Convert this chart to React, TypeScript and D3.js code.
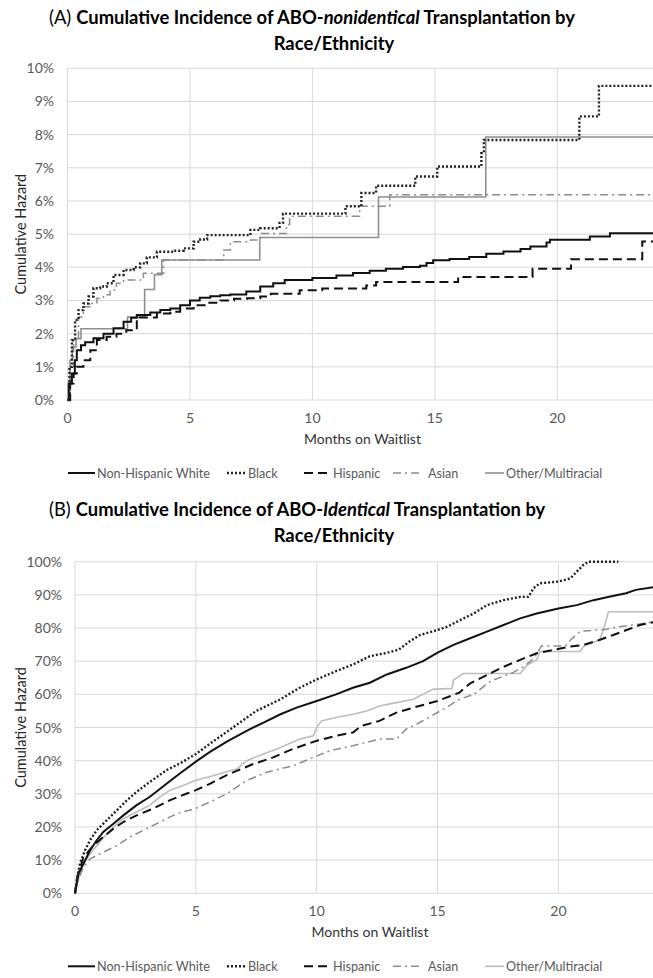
import React from 'react';
import * as d3 from 'd3';

type Pt = [number, number];

const monthTicks = [0, 5, 10, 15, 20];
const hazardTicksA = [0, 1, 2, 3, 4, 5, 6, 7, 8, 9, 10];
const hazardTicksB = [0, 10, 20, 30, 40, 50, 60, 70, 80, 90, 100];
const groups = ['Non-Hispanic White', 'Black', 'Hispanic', 'Asian', 'Other/Multiracial'];

// panel A: ABO-nonidentical, [months, cumulative hazard %]
const aWhite: Pt[] = [[0,0],[0.05,0.5],[0.18,0.8],[0.3,1.2],[0.38,1.5],[0.55,1.65],[0.72,1.74],[1.06,1.86],[1.47,2.0],[1.88,2.16],[2.29,2.36],[2.6,2.48],[2.83,2.56],[3.38,2.64],[3.79,2.71],[4.2,2.76],[4.6,2.86],[5.0,3.0],[5.4,3.08],[5.83,3.13],[6.24,3.16],[6.65,3.18],[7.3,3.27],[7.87,3.42],[8.4,3.52],[8.87,3.62],[10.0,3.68],[10.98,3.75],[11.66,3.83],[12.34,3.9],[13.0,3.96],[13.7,4.01],[14.39,4.05],[14.66,4.13],[14.93,4.21],[15.6,4.25],[16.4,4.31],[17.1,4.41],[17.8,4.48],[18.5,4.55],[18.9,4.63],[19.56,4.75],[19.7,4.83],[21.33,4.93],[22.15,5.03],[24,5.03]];
const aBlack: Pt[] = [[0,0],[0.08,1.0],[0.18,1.8],[0.31,2.41],[0.45,2.71],[0.65,2.91],[0.86,3.12],[1.06,3.37],[1.33,3.42],[1.6,3.52],[1.88,3.77],[2.29,3.92],[2.7,4.0],[2.97,4.12],[3.24,4.3],[3.65,4.47],[4.33,4.5],[4.74,4.57],[5.15,4.77],[5.42,4.84],[5.7,4.97],[7.47,5.13],[7.87,5.18],[8.66,5.34],[8.8,5.62],[11.35,5.84],[12.0,6.24],[12.6,6.46],[14.2,6.74],[15.1,7.04],[16.9,7.44],[17.0,7.84],[20.9,8.55],[21.7,9.47],[24,9.47]];
const aHispanic: Pt[] = [[0,0],[0.11,0.5],[0.25,0.8],[0.38,1.0],[0.65,1.2],[0.93,1.5],[1.2,1.81],[1.6,1.91],[2.0,2.0],[2.4,2.1],[2.83,2.49],[3.65,2.61],[4.2,2.66],[4.6,2.76],[5.15,2.86],[5.7,2.93],[6.24,3.0],[6.8,3.05],[7.33,3.07],[7.87,3.12],[8.3,3.2],[9.48,3.31],[10.4,3.36],[12.2,3.45],[12.6,3.56],[15.95,3.71],[18.99,3.96],[20.56,4.24],[23.47,4.78],[24,4.78]];
const aAsian: Pt[] = [[0,0],[0.11,1.0],[0.25,1.8],[0.45,2.5],[0.65,2.81],[0.93,2.91],[1.2,3.07],[1.47,3.17],[1.74,3.32],[2.0,3.52],[2.29,3.62],[3.1,3.82],[3.92,4.22],[6.38,4.52],[6.65,4.77],[7.47,4.82],[7.87,5.02],[8.94,5.29],[9.07,5.54],[11.93,5.84],[13.16,6.19],[24,6.19]];
const aOther: Pt[] = [[0,0],[0.1,1.2],[0.2,1.6],[0.35,1.85],[0.55,2.15],[2.45,2.5],[3.15,3.33],[3.55,3.78],[3.85,4.22],[7.85,4.9],[12.7,6.12],[17.08,7.93],[24,7.93]];

// panel B: ABO-identical
const bWhite: Pt[] = [[0,0],[0.14,5.9],[0.35,8.9],[0.62,12.9],[0.9,16],[1.17,18.5],[1.59,21],[2.0,23.5],[2.55,26.6],[3.1,29.1],[3.8,33.1],[4.35,36.2],[5,39.7],[5.6,42.7],[6.3,45.8],[7.1,49],[7.8,51.5],[8.5,54],[9.17,56],[10,58],[10.8,60],[11.5,62],[12.2,63.5],[12.9,66],[13.7,68],[14.4,70],[15,72.6],[15.66,74.9],[16.35,76.9],[17.04,78.9],[17.73,80.9],[18.42,82.9],[19.1,84.4],[20,85.9],[20.76,86.9],[21.45,88.4],[22.1,89.4],[22.8,90.5],[23.2,91.5],[24,92.4]];
const bBlack: Pt[] = [[0,0],[0.07,3.8],[0.2,8.9],[0.41,12.9],[0.62,16],[0.9,19],[1.31,22],[1.73,25],[2.14,28],[2.55,30.6],[3.1,33.6],[3.8,37.2],[4.35,39.2],[5,42],[5.6,45.2],[6.3,48.8],[7.5,55],[8.5,58.5],[9.3,62],[10,64.5],[10.8,67],[11.5,69],[12.2,71.5],[12.9,72.5],[13.4,73.5],[13.85,76],[14.28,77.9],[15,79.4],[15.4,80.4],[15.94,82.4],[16.5,84.4],[17.04,86.9],[17.73,88.4],[18.42,89.4],[18.76,89.4],[18.97,92],[19.24,93.5],[20,94],[20.5,95],[20.76,97],[21.03,99],[21.24,100],[22.48,100]];
const bHispanic: Pt[] = [[0,0],[0.1,5],[0.35,10.9],[0.76,14.4],[1.17,17],[1.59,19.5],[2.0,21.5],[2.55,23.5],[3.25,25.6],[3.94,28.1],[4.63,30.1],[5,31.1],[5.6,33.1],[6.3,35.7],[7.38,39],[8.2,41],[9.0,43.5],[10,46],[10.8,47.5],[11.5,48.5],[11.85,50.5],[12.6,52],[13.3,54.5],[14.0,56],[15,58],[15.9,60.5],[16.35,63.3],[17.04,65.8],[17.73,68.3],[18.42,70.4],[19.1,72.4],[19.8,73.4],[20.48,74.4],[21.03,74.9],[21.7,76.4],[22.27,77.9],[22.82,79.4],[23.37,80.9],[24,81.9]];
const bAsian: Pt[] = [[0,0],[0.07,2.8],[0.35,7.9],[0.62,10.4],[1.17,12.4],[1.73,14.4],[2.28,17],[2.83,19],[3.52,21.5],[4.2,24],[5,25.6],[5.6,27.6],[6.3,30.1],[7.1,34],[7.93,36.5],[9.04,38.5],[9.86,41],[10.55,43],[11.5,44.5],[12.6,46.5],[13.3,46.5],[13.7,49.5],[14.26,51.5],[15.36,56],[15.9,58.5],[16.5,60],[17.2,64],[18.1,66.5],[18.6,68.5],[19.0,71],[19.3,74.6],[20.3,74.6],[20.5,76.4],[20.9,79],[22.0,79.6],[22.5,80.4],[23.2,81],[24,82]];
const bOther: Pt[] = [[0,0],[0.17,5],[0.34,9],[0.69,12.5],[1.2,17],[1.6,20],[2.0,22.5],[2.55,24.5],[3.1,26.6],[3.52,29.1],[3.94,31.1],[4.5,32.6],[5,34.1],[5.6,35.2],[6.3,36.7],[6.7,37.5],[7.1,40],[7.8,42],[8.5,44],[9.3,46.5],[9.86,47.5],[10,50],[10.2,52],[10.8,53],[11.5,54],[12.07,55],[12.6,56.5],[13.3,57.5],[14.0,58.5],[14.8,61.5],[15.6,61.8],[15.66,64.3],[16.07,66.3],[18.42,66.3],[18.7,68.8],[19.1,70.4],[19.24,72.9],[20.9,72.9],[21.03,74.4],[21.7,76.4],[21.86,79.4],[22.07,84.9],[24,84.9]];

type LineStyle = { stroke: string; width: number; dash?: string };

const stylesA: LineStyle[] = [
  { stroke: '#111', width: 2 },
  { stroke: '#222', width: 2.4, dash: '2,2' },
  { stroke: '#111', width: 2, dash: '9,5' },
  { stroke: '#8c8c8c', width: 1.5, dash: '8,4,2,4' },
  { stroke: '#8f8f8f', width: 1.6 },
];
const stylesB: LineStyle[] = [
  { stroke: '#111', width: 2 },
  { stroke: '#222', width: 2.4, dash: '2,2' },
  { stroke: '#111', width: 2, dash: '9,5' },
  { stroke: '#8c8c8c', width: 1.5, dash: '8,4,2,4' },
  { stroke: '#bdbdbd', width: 1.6 },
];

const FONT = 'Lato, "Open Sans", sans-serif';
const GREY = '#595959';

type PanelProps = {
  letter: string;
  pre: string;
  italic: string;
  post: string;
  top: number;
  x0: number;
  ppm: number;
  yBottom: number;
  yTop: number;
  yMax: number;
  ticks: number[];
  series: Pt[][];
  styles: LineStyle[];
  stepped: boolean;
  tickRight: number;
};

const Panel = (p: PanelProps) => {
  const x = d3.scaleLinear().domain([0, 25]).range([p.x0, p.x0 + 25 * p.ppm]);
  const y = d3.scaleLinear().domain([0, p.yMax]).range([p.yBottom, p.yTop]);
  const line = d3.line<Pt>()
    .x((d) => x(d[0]))
    .y((d) => y(d[1]))
    .curve(p.stepped ? d3.curveStepAfter : d3.curveLinear);
  const fmt = (v: number) => `${v}%`;
  const legendY = p.yBottom + 73;
  const legendItems = [
    { lx: 68, lw: 27, tx: 97 },
    { lx: 227, lw: 19, tx: 248 },
    { lx: 304, lw: 27, tx: 333 },
    { lx: 393, lw: 30, tx: 428 },
    { lx: 485, lw: 19, tx: 506 },
  ];
  const order = [4, 3, 2, 0, 1];
  return (
    <g>
      <text x={49} y={p.top + 24} fontFamily={FONT} fontSize={18.4} fill="#000">
        <tspan fontWeight={400}>{p.letter}</tspan>
        <tspan fontWeight={700} dx={5}>{p.pre}</tspan>
        <tspan fontWeight={700} fontStyle="italic">{p.italic}</tspan>
        <tspan fontWeight={700}>{p.post}</tspan>
      </text>
      <text x={334} y={p.top + 49.5} fontFamily={FONT} fontSize={18.4} fontWeight={700} textAnchor="middle">
        Race/Ethnicity
      </text>
      {p.ticks.map((t) => (
        <line key={'h' + t} x1={p.x0} x2={660} y1={y(t)} y2={y(t)} stroke="#d9d9d9" strokeWidth={1} />
      ))}
      {monthTicks.map((t) => (
        <line key={'v' + t} x1={x(t)} x2={x(t)} y1={p.yTop} y2={p.yBottom} stroke="#d9d9d9" strokeWidth={1} />
      ))}
      {p.ticks.map((t) => (
        <text key={'yl' + t} x={p.tickRight} y={y(t) + 5} textAnchor="end" fontFamily={FONT} fontSize={14} fill={GREY}>
          {fmt(t)}
        </text>
      ))}
      {monthTicks.map((t) => (
        <text key={'xl' + t} x={x(t)} y={p.yBottom + 23} textAnchor="middle" fontFamily={FONT} fontSize={14} fill={GREY}>
          {t}
        </text>
      ))}
      <text x={p.x0 + 295} y={p.yBottom + 44} textAnchor="middle" fontFamily={FONT} fontSize={14} fill="#333">
        Months on Waitlist
      </text>
      <text
        transform={`translate(26, ${(p.yTop + p.yBottom) / 2}) rotate(-90)`}
        textAnchor="middle"
        fontFamily={FONT}
        fontSize={14.5}
        fill="#262626"
      >
        Cumulative Hazard
      </text>
      {order.map((i) => (
        <path
          key={groups[i]}
          d={line(p.series[i]) || ''}
          fill="none"
          stroke={p.styles[i].stroke}
          strokeWidth={p.styles[i].width}
          strokeDasharray={p.styles[i].dash}
        />
      ))}
      {groups.map((g, i) => (
        <g key={'lg' + g}>
          <line
            x1={legendItems[i].lx}
            x2={legendItems[i].lx + legendItems[i].lw}
            y1={legendY}
            y2={legendY}
            stroke={p.styles[i].stroke}
            strokeWidth={p.styles[i].width}
            strokeDasharray={p.styles[i].dash}
          />
          <text x={legendItems[i].tx} y={legendY + 4.5} fontFamily={FONT} fontSize={12.6} fill={GREY}>
            {g}
          </text>
        </g>
      ))}
    </g>
  );
};

export default function App() {
  return (
    <div style={{ position: 'absolute', left: 0, top: 0 }}>
      <svg width={653} height={978} style={{ display: 'block', background: '#fff' }}>
        <Panel
          letter="(A)"
          pre="Cumulative Incidence of ABO-"
          italic="nonidentical"
          post=" Transplantation by"
          top={0}
          x0={67.5}
          ppm={24.49}
          yBottom={400}
          yTop={68.3}
          yMax={10}
          ticks={hazardTicksA}
          series={[aWhite, aBlack, aHispanic, aAsian, aOther]}
          styles={stylesA}
          stepped={true}
          tickRight={54}
        />
        <Panel
          letter="(B)"
          pre="Cumulative Incidence of ABO-"
          italic="Identical"
          post=" Transplantation by"
          top={492}
          x0={75}
          ppm={24.17}
          yBottom={893.3}
          yTop={561.7}
          yMax={100}
          ticks={hazardTicksB}
          series={[bWhite, bBlack, bHispanic, bAsian, bOther]}
          styles={stylesB}
          stepped={false}
          tickRight={62}
        />
      </svg>
    </div>
  );
}
